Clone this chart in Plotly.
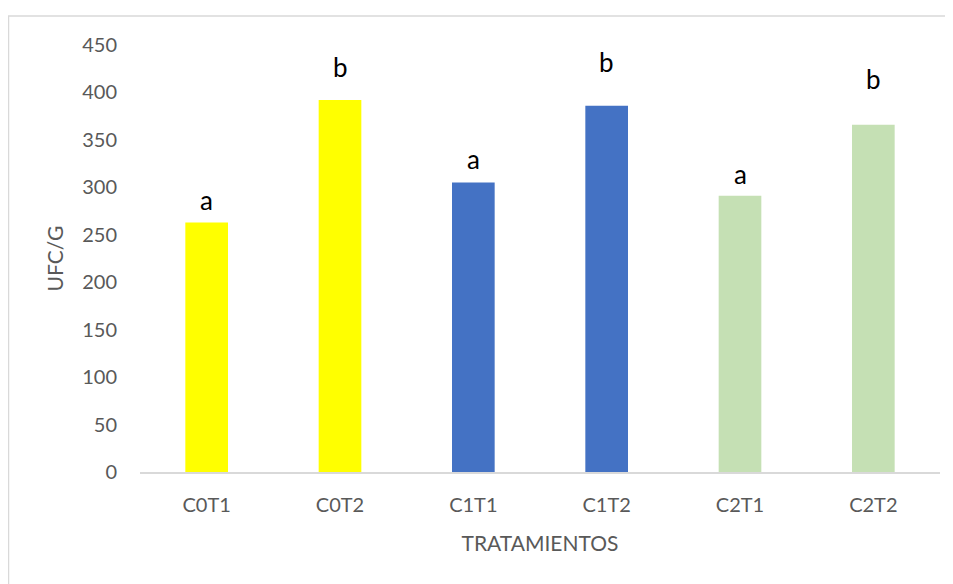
import plotly.graph_objects as go


# ==========================================
# Data
# ==========================================

tratamientos = ["C0T1", "C0T2", "C1T1", "C1T2", "C2T1", "C2T2"]
ufc_g = [263, 392, 305, 386, 291, 366]
letras = ["a", "b", "a", "b", "a", "b"]
letras_y = [287, 427, 330, 432, 314, 414]
colores = ["#FFFF00", "#FFFF00", "#4472C4", "#4472C4", "#C5E0B4", "#C5E0B4"]

FONT = "Lato"
GREY = "#595959"

# the page adds an 8px body margin, so the figure is laid out 8px up/left
W, H = 953, 584
ML, MR, MT, MB = 132, 21, 37, 120


# ==========================================
# Bar Chart
# ==========================================

fig = go.Figure()

fig.add_trace(go.Bar(
    x=tratamientos,
    y=ufc_g,
    marker=dict(color=colores, line=dict(width=0)),
    width=0.32,
    showlegend=False
))

for cat, letra, ly in zip(tratamientos, letras, letras_y):
    fig.add_annotation(
        x=cat, y=ly, text=letra, showarrow=False,
        font=dict(family=FONT, size=26, color="#000000")
    )

# chart border (paper coordinates relative to the plot area)
pw = W - ML - MR
ph = H - MT - MB
fig.add_shape(
    type="rect", xref="paper", yref="paper",
    x0=(0.5 - ML) / pw, x1=(W + 10 - ML) / pw,
    y0=-(H + 10 - (H - MB)) / ph, y1=((H - MB) - 8) / ph,
    line=dict(color="#D9D9D9", width=1.5), layer="below"
)

fig.update_layout(
    width=W, height=H,
    margin=dict(l=ML, r=MR, t=MT, b=MB),
    plot_bgcolor="white",
    paper_bgcolor="white",
    font=dict(family=FONT, size=20, color=GREY),
    xaxis=dict(
        title=dict(text="TRATAMIENTOS", font=dict(size=21, color=GREY), standoff=22),
        showline=True, linecolor="#D9D9D9", linewidth=1.5,
        showgrid=False, ticks="", ticklabelstandoff=14,
        tickfont=dict(size=20, color=GREY)
    ),
    yaxis=dict(
        title=dict(text="UFC/G", font=dict(size=21, color=GREY), standoff=12),
        range=[0, 450], dtick=50,
        showgrid=False, zeroline=False, showline=False,
        ticks="", ticklabelstandoff=22,
        tickfont=dict(size=20, color=GREY)
    )
)

fig.write_html("out.html")
